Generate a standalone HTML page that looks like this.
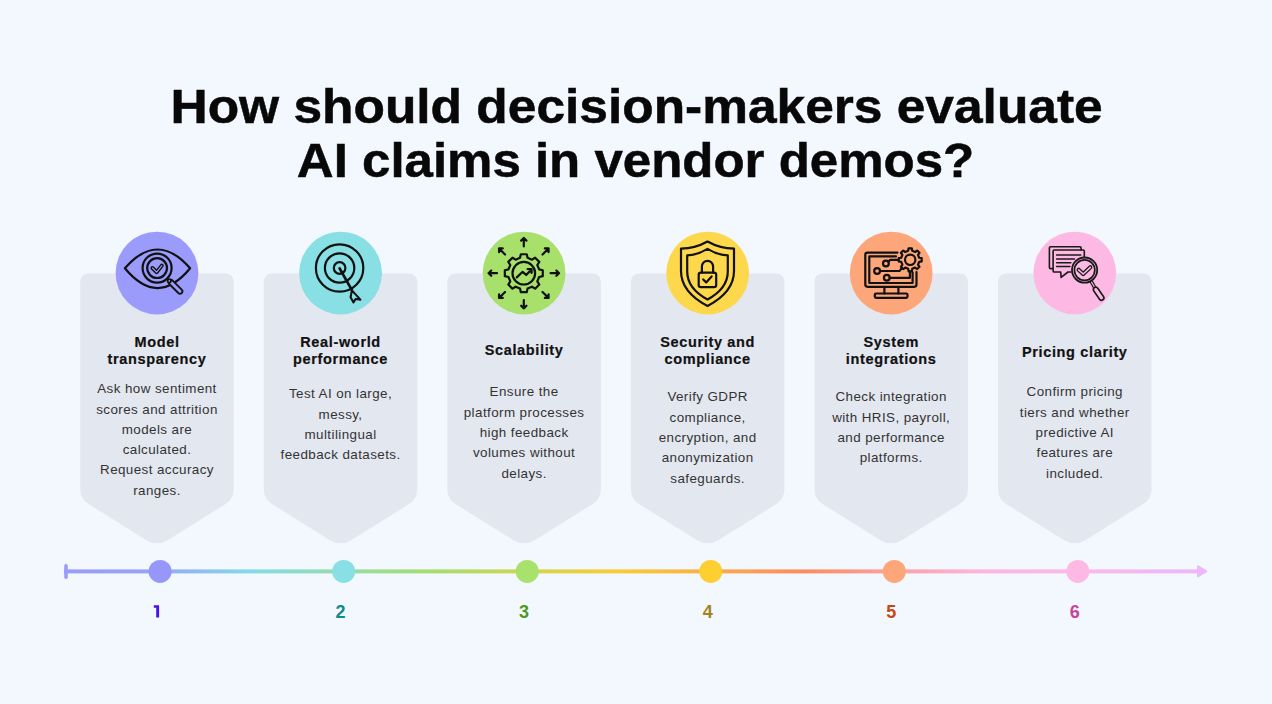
<!DOCTYPE html>
<html><head><meta charset="utf-8"><style>
html,body{margin:0;padding:0;}
body{width:1272px;height:704px;background:#F3F7FE;position:relative;overflow:hidden;font-family:"Liberation Sans",sans-serif;}
svg{position:absolute;left:0;top:0;}
.h{position:absolute;left:0;width:1272px;text-align:center;font-weight:bold;font-size:48px;color:#080808;white-space:nowrap;}
.h span{display:inline-block;transform-origin:center;-webkit-text-stroke:0.5px #080808;}
#h1{transform:translateX(0.8px) scaleX(1.072);}
#h2{transform:translateX(-0.25px) scaleX(1.0624);}
.t{position:absolute;width:180px;text-align:center;font-weight:bold;font-size:14.5px;line-height:17.3px;color:#111;white-space:nowrap;letter-spacing:0.65px;-webkit-text-stroke:0.2px #111;}
.b{position:absolute;width:180px;text-align:center;font-size:13.4px;line-height:20.3px;color:#333;white-space:nowrap;letter-spacing:0.42px;}
.n{position:absolute;width:40px;text-align:center;font-weight:bold;font-size:18px;line-height:20px;}
</style></head><body>
<svg width="1272" height="704" viewBox="0 0 1272 704">
<path d="M80.25,281.40 A8.00,8.00 0 0 1 88.25,273.40 L225.75,273.40 A8.00,8.00 0 0 1 233.75,281.40 L233.75,488.92 A18.00,18.00 0 0 1 225.28,504.19 L167.59,540.19 A20.00,20.00 0 0 1 146.41,540.19 L88.72,504.19 A18.00,18.00 0 0 1 80.25,488.92 Z" fill="#E3E7F0"/><path d="M263.80,281.40 A8.00,8.00 0 0 1 271.80,273.40 L409.30,273.40 A8.00,8.00 0 0 1 417.30,281.40 L417.30,488.92 A18.00,18.00 0 0 1 408.83,504.19 L351.14,540.19 A20.00,20.00 0 0 1 329.96,540.19 L272.27,504.19 A18.00,18.00 0 0 1 263.80,488.92 Z" fill="#E3E7F0"/><path d="M447.35,281.40 A8.00,8.00 0 0 1 455.35,273.40 L592.85,273.40 A8.00,8.00 0 0 1 600.85,281.40 L600.85,488.92 A18.00,18.00 0 0 1 592.38,504.19 L534.69,540.19 A20.00,20.00 0 0 1 513.51,540.19 L455.82,504.19 A18.00,18.00 0 0 1 447.35,488.92 Z" fill="#E3E7F0"/><path d="M630.90,281.40 A8.00,8.00 0 0 1 638.90,273.40 L776.40,273.40 A8.00,8.00 0 0 1 784.40,281.40 L784.40,488.92 A18.00,18.00 0 0 1 775.93,504.19 L718.24,540.19 A20.00,20.00 0 0 1 697.06,540.19 L639.37,504.19 A18.00,18.00 0 0 1 630.90,488.92 Z" fill="#E3E7F0"/><path d="M814.45,281.40 A8.00,8.00 0 0 1 822.45,273.40 L959.95,273.40 A8.00,8.00 0 0 1 967.95,281.40 L967.95,488.92 A18.00,18.00 0 0 1 959.48,504.19 L901.79,540.19 A20.00,20.00 0 0 1 880.61,540.19 L822.92,504.19 A18.00,18.00 0 0 1 814.45,488.92 Z" fill="#E3E7F0"/><path d="M998.00,281.40 A8.00,8.00 0 0 1 1006.00,273.40 L1143.50,273.40 A8.00,8.00 0 0 1 1151.50,281.40 L1151.50,488.92 A18.00,18.00 0 0 1 1143.03,504.19 L1085.34,540.19 A20.00,20.00 0 0 1 1064.16,540.19 L1006.47,504.19 A18.00,18.00 0 0 1 998.00,488.92 Z" fill="#E3E7F0"/>
<circle cx="157.00" cy="273.1" r="41.4" fill="#9A9BFB"/><circle cx="340.55" cy="273.1" r="41.4" fill="#88E0E5"/><circle cx="524.10" cy="273.1" r="41.4" fill="#A7E06B"/><circle cx="707.65" cy="273.1" r="41.4" fill="#FDD84C"/><circle cx="891.20" cy="273.1" r="41.4" fill="#FDA67A"/><circle cx="1074.75" cy="273.1" r="41.4" fill="#FDB9E4"/>
<g fill="none" stroke="#111" stroke-width="2.2" stroke-linecap="round" stroke-linejoin="round">
<path d="M124.9,268.3 Q157.5,230.7 190.1,268.3 Q157.5,307.8 124.9,268.3Z"/>
<circle cx="157.1" cy="268.1" r="14.5"/>
<circle cx="157.1" cy="268.1" r="9.9"/>
<path d="M152.4,268 L156.6,272.2 L161.8,265.6" stroke-width="3.9"/>
<path d="M152.4,268 L156.6,272.2 L161.8,265.6" stroke="#9A9BFB" stroke-width="1.1"/>
<path d="M171,282.3 L180,291.3" stroke-width="6.6"/>
<path d="M171,282.3 L180,291.3" stroke="#9A9BFB" stroke-width="3"/>
<circle cx="169.3" cy="280.8" r="1.7" fill="#9A9BFB" stroke-width="1.7"/>
</g>
<g fill="none" stroke="#111" stroke-width="2.2" stroke-linecap="round" stroke-linejoin="round" stroke-width="2.3">
<circle cx="339.6" cy="268" r="23.7"/>
<circle cx="339.6" cy="268" r="14.7"/>
<circle cx="339.6" cy="268" r="5.8"/>
<path d="M339.6,268.4 L351.9,290.2" stroke-width="2.7"/>
<path d="M351.9,290.4 L350.6,297.2 L353.5,302.4 L355.6,299 L360.4,299.6 Z" stroke-width="2.1"/>
</g>
<g fill="none" stroke="#111" stroke-width="2.2" stroke-linecap="round" stroke-linejoin="round">
<path d="M520.04,257.85 L520.86,254.23 L526.74,254.23 L527.56,257.85 L532.00,259.69 L535.14,257.71 L539.29,261.86 L537.31,265.00 L539.15,269.44 L542.77,270.26 L542.77,276.14 L539.15,276.96 L537.31,281.40 L539.29,284.54 L535.14,288.69 L532.00,286.71 L527.56,288.55 L526.74,292.17 L520.86,292.17 L520.04,288.55 L515.60,286.71 L512.46,288.69 L508.31,284.54 L510.29,281.40 L508.45,276.96 L504.83,276.14 L504.83,270.26 L508.45,269.44 L510.29,265.00 L508.31,261.86 L512.46,257.71 L515.60,259.69Z"/>
<circle cx="523.8" cy="273.2" r="11.3"/>
<path d="M516.8,277.4 L522.6,271.8 L526.2,274.9 L531.6,269.2 M527.6,269 L531.6,269.2 L531.6,273"/>
<path d="M523.80,246.40 L523.80,238.00 M526.42,240.62 L523.80,238.00 L521.18,240.62 M542.54,254.46 L548.55,248.45 M548.55,252.15 L548.55,248.45 L544.85,248.45 M550.60,273.20 L559.00,273.20 M556.38,275.82 L559.00,273.20 L556.38,270.58 M542.54,291.94 L548.55,297.95 M544.85,297.95 L548.55,297.95 L548.55,294.25 M523.80,300.00 L523.80,308.40 M521.18,305.78 L523.80,308.40 L526.42,305.78 M505.06,291.94 L499.05,297.95 M499.05,294.25 L499.05,297.95 L502.75,297.95 M497.00,273.20 L488.60,273.20 M491.22,270.58 L488.60,273.20 L491.22,275.82 M505.06,254.46 L499.05,248.45 M502.75,248.45 L499.05,248.45 L499.05,252.15" stroke-width="2.2"/>
</g>
<g fill="none" stroke="#111" stroke-width="2.2" stroke-linecap="round" stroke-linejoin="round">
<path d="M707.5,241.5 Q695,248.5 681,248.6 L681,271 Q681,292 707.5,306 Q734,292 734,271 L734,248.6 Q720,248.5 707.5,241.5Z"/>
<path d="M707.5,248.9 Q697.5,255 687.2,255.4 L687.2,271.5 Q687.2,288.5 707.5,299.5 Q727.8,288.5 727.8,271.5 L727.8,255.4 Q717.5,255 707.5,248.9Z"/>
<path d="M701.9,272.6 L701.9,266.4 A5.6,5.6 0 0 1 713.1,266.4 L713.1,272.6"/>
<rect x="698.7" y="272.6" width="17.5" height="14.6" rx="2.2"/>
<path d="M703.2,279.5 L706.2,282.4 L711.6,276.4"/>
</g>
<g fill="none" stroke="#111" stroke-width="2.2" stroke-linecap="round" stroke-linejoin="round">
<path d="M897.5,252.6 L867.5,252.6 Q865.3,252.6 865.3,254.8 L865.3,284.6 Q865.3,286.8 867.5,286.8 L914.3,286.8 Q916.5,286.8 916.5,284.6 L916.5,272"/>
<path d="M896,256.4 L869.3,256.4 L869.3,283 L912.6,283 L912.6,272.3"/>
<path d="M884.4,287 L884.4,293.4 M898.4,287 L898.4,293.4"/>
<rect x="874.8" y="293.5" width="32.7" height="4.4" rx="1.3"/>
<circle cx="885.9" cy="263.5" r="2.9"/>
<circle cx="877.1" cy="271" r="2.9"/>
<circle cx="886.8" cy="277.8" r="2.9"/>
<path d="M888.3,261.8 L890.2,259.9 L898.5,259.9"/>
<path d="M880,271 L899.7,271 L901.3,268.6"/>
<path d="M889.7,277.8 L909.9,277.8 L909.9,271.6"/>

<path d="M908.13,250.84 L908.59,248.31 L911.81,248.31 L912.27,250.84 L915.08,252.00 L917.18,250.54 L919.46,252.82 L918.00,254.92 L919.16,257.73 L921.69,258.19 L921.69,261.41 L919.16,261.87 L918.00,264.68 L919.46,266.78 L917.18,269.06 L915.08,267.60 L912.27,268.76 L911.81,271.29 L908.59,271.29 L908.13,268.76 L905.32,267.60 L903.22,269.06 L900.94,266.78 L902.40,264.68 L901.24,261.87 L898.71,261.41 L898.71,258.19 L901.24,257.73 L902.40,254.92 L900.94,252.82 L903.22,250.54 L905.32,252.00Z"/><circle cx="910.2" cy="259.8" r="5.2"/></g>
<g fill="none" stroke="#1a1a1a" stroke-width="1.6" stroke-linecap="round" stroke-linejoin="round">
<path d="M1053,268.6 L1050.5,268.6 Q1049.4,268.6 1049.4,267.5 L1049.4,247.9 Q1049.4,246.8 1050.5,246.8 L1080,246.8 Q1081.1,246.8 1081.1,247.9 L1081.1,250"/>
<path d="M1071,272 L1068,272 L1061.1,277.4 L1060.7,272 L1054.2,272 Q1053.1,272 1053.1,270.9 L1053.1,251.1 Q1053.1,250 1054.2,250 L1083.2,250 Q1084.3,250 1084.3,251.1 L1084.3,257.3"/>
<path d="M1056.6,255 L1080.8,255 M1056.6,258.9 L1074.5,258.9 M1056.6,262.7 L1070.8,262.7 M1056.6,266.6 L1069.9,266.6" stroke-width="1.5"/>
<circle cx="1084.6" cy="270.1" r="12.6" stroke-width="1.8"/>
<circle cx="1084.6" cy="270.1" r="10.2" stroke-width="1.7"/>
<path d="M1078.6,269.8 L1083.2,274 L1090.3,267.3" stroke-width="4.2"/>
<path d="M1078.6,269.8 L1083.2,274 L1090.3,267.3" stroke="#FDB9E4" stroke-width="1.6"/>
<path d="M1091.6,282.2 L1094.3,286.8" stroke-width="3.6"/>
<path d="M1091.6,282.2 L1094.3,286.8" stroke="#FDB9E4" stroke-width="1.2"/>
<path d="M1095.8,289.6 L1101.5,297.8" stroke-width="6.4"/>
<path d="M1095.8,289.6 L1101.5,297.8" stroke="#FDB9E4" stroke-width="3.2"/>
</g>
<defs><linearGradient id="tl" gradientUnits="userSpaceOnUse" x1="64" y1="0" x2="1208" y2="0"><stop offset="0.0000" stop-color="#9A9CF8"/><stop offset="0.0752" stop-color="#97A3F6"/><stop offset="0.1635" stop-color="#84DBE8"/><stop offset="0.3243" stop-color="#A6DE6C"/><stop offset="0.4851" stop-color="#F9CC33"/><stop offset="0.6451" stop-color="#FD8C5E"/><stop offset="0.8059" stop-color="#FDB5E2"/><stop offset="0.8855" stop-color="#FBB8EA"/><stop offset="1.0000" stop-color="#E8B8FA"/></linearGradient></defs>
<rect x="64" y="569.4" width="1136" height="4" fill="url(#tl)"/>
<rect x="64.2" y="563.9" width="3.6" height="15.2" rx="1.8" fill="#9A9BFB"/>
<path d="M1198.5,565.5 L1206.5,570.2 Q1208.3,571.3 1206.5,572.4 L1198.5,577.1 Q1197,578 1197,576.2 L1197,566.4 Q1197,564.6 1198.5,565.5Z" fill="#EBB8FA"/>
<circle cx="160.10" cy="571.4" r="11.5" fill="#9797FB"/>
<circle cx="343.65" cy="571.4" r="11.5" fill="#88E0E5"/>
<circle cx="527.20" cy="571.4" r="11.5" fill="#A8E16B"/>
<circle cx="710.75" cy="571.4" r="11.5" fill="#FECF30"/>
<circle cx="894.30" cy="571.4" r="11.5" fill="#FDA67A"/>
<circle cx="1077.85" cy="571.4" r="11.5" fill="#FDB9E4"/>
<path d="M156.2,605.3 L159.1,605.3 L159.1,617.4 L156.2,617.4 L156.2,607.7 L153.8,607.7 L153.8,605.3Z" fill="#4A12E6"/>
</svg>
<div class="h" style="top:79.10000000000001px"><span id="h1">How should decision-makers evaluate</span></div>
<div class="h" style="top:133.3px"><span id="h2">AI claims in vendor demos?</span></div>
<div class="t" style="left:67.00px;top:333.50px">Model<br>transparency</div>
<div class="b" style="left:67.00px;top:379.30px">Ask how sentiment<br>scores and attrition<br>models are<br>calculated.<br>Request accuracy<br>ranges.</div>
<div class="t" style="left:250.55px;top:333.50px">Real-world<br>performance</div>
<div class="b" style="left:250.55px;top:384.40px">Test AI on large,<br>messy,<br>multilingual<br>feedback datasets.</div>
<div class="n" style="left:320.55px;top:602.00px;color:#0E8A8C">2</div>
<div class="t" style="left:434.10px;top:342.00px">Scalability</div>
<div class="b" style="left:434.10px;top:382.40px">Ensure the<br>platform processes<br>high feedback<br>volumes without<br>delays.</div>
<div class="n" style="left:504.10px;top:602.00px;color:#4E9A1E">3</div>
<div class="t" style="left:617.65px;top:333.50px">Security and<br>compliance</div>
<div class="b" style="left:617.65px;top:387.40px">Verify GDPR<br>compliance,<br>encryption, and<br>anonymization<br>safeguards.</div>
<div class="n" style="left:687.65px;top:602.00px;color:#A4831C">4</div>
<div class="t" style="left:801.20px;top:333.50px">System<br>integrations</div>
<div class="b" style="left:801.20px;top:387.40px">Check integration<br>with HRIS, payroll,<br>and performance<br>platforms.</div>
<div class="n" style="left:871.20px;top:602.00px;color:#C44A14">5</div>
<div class="t" style="left:984.75px;top:344.00px">Pricing clarity</div>
<div class="b" style="left:984.75px;top:382.40px">Confirm pricing<br>tiers and whether<br>predictive AI<br>features are<br>included.</div>
<div class="n" style="left:1054.75px;top:602.00px;color:#C4459A">6</div>
</body></html>
